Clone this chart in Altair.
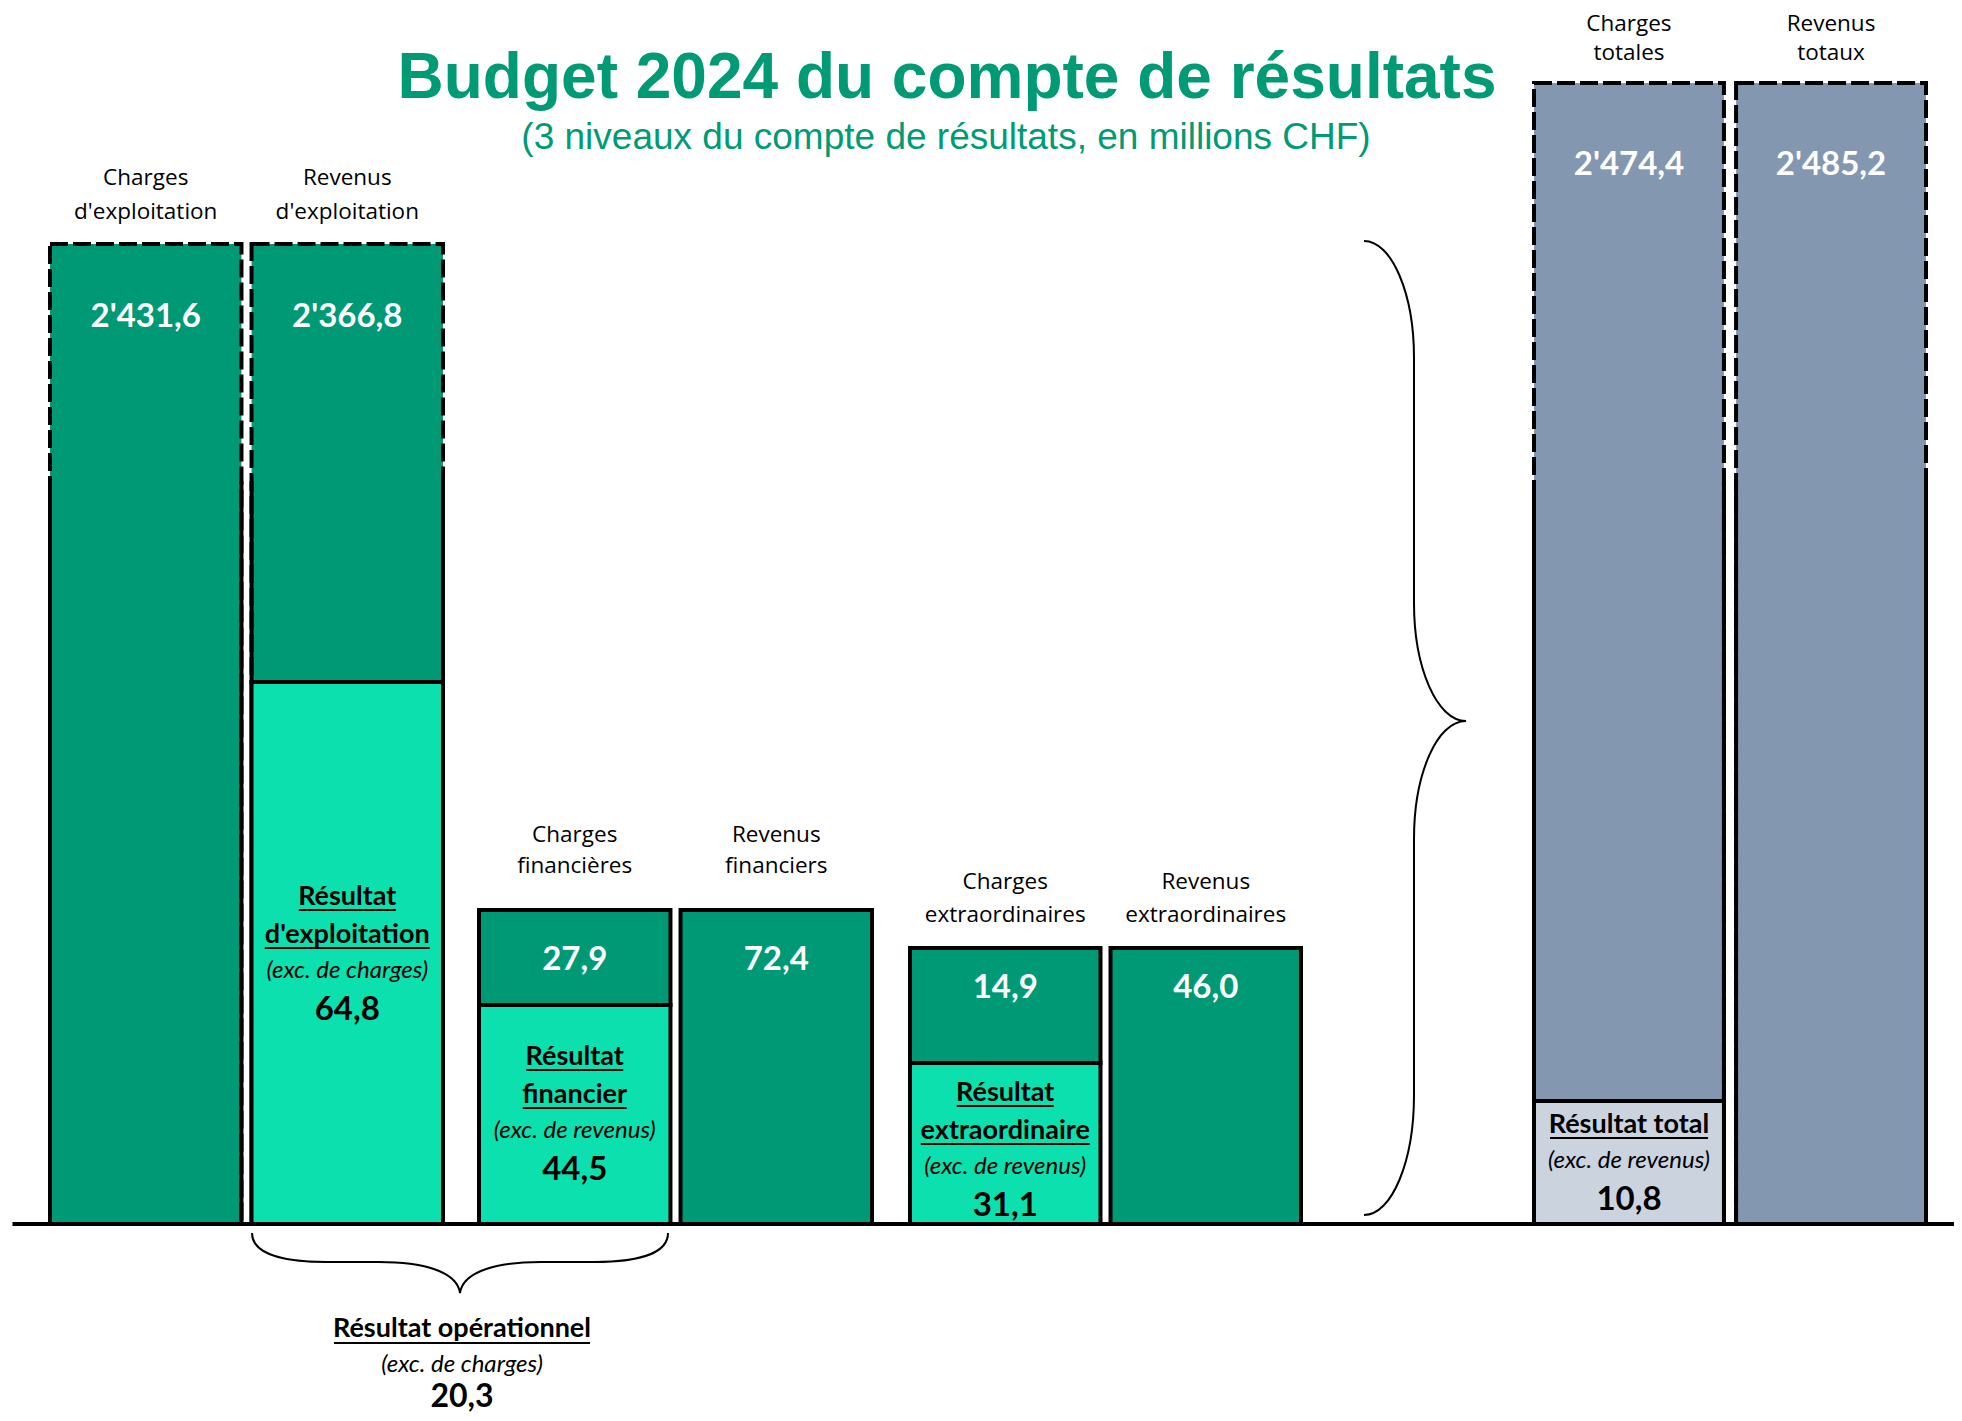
import altair as alt
import pandas as pd

# ---------------- data ----------------
niveaux = ["exploitation", "financier", "extraordinaire", "total"]
entetes_charges = ["Charges\nd'exploitation", "Charges\nfinancières", "Charges\nextraordinaires", "Charges\ntotales"]
entetes_revenus = ["Revenus\nd'exploitation", "Revenus\nfinanciers", "Revenus\nextraordinaires", "Revenus\ntotaux"]
charges = [2431.6, 27.9, 14.9, 2474.4]
revenus = [2366.8, 72.4, 46.0, 2485.2]
resultats = [64.8, 44.5, 31.1, 10.8]
resultat_titres = ["Résultat\nd'exploitation", "Résultat\nfinancier", "Résultat\nextraordinaire", "Résultat total"]
resultat_excedents = ["(exc. de charges)", "(exc. de revenus)", "(exc. de revenus)", "(exc. de revenus)"]
resultat_barres = ["Revenus", "Charges", "Charges", "Charges"]
operationnel_titre = "Résultat opérationnel"
operationnel_excedent = "(exc. de charges)"
operationnel_valeur = 20.3
titre = "Budget 2024 du compte de résultats"
sous_titre = "(3 niveaux du compte de résultats, en millions CHF)"

# ---------------- style / layout ----------------
W, H = 1946, 1405
BASE = 1216
DASH_END = 473
GREEN_TITLE = "#009A74"
DARK = "#009975"
LIGHT = "#0CE0AF"
SLATE = "#8497B0"
LIGHT_SLATE = "#CBD3DF"
HEAD_SIZE = 22.5
BOLD_SIZE = 27
ITAL_SIZE = 24
NUM_SIZE = 33

LAYOUT = [
    dict(x0=42, x1=435, pad=0.05, split=674, top=236, head=(-66, -32), val=73, res=215,
         dashed=True, fill=DARK, light=LIGHT),
    dict(x0=471, x1=864, pad=0.05, split=997, top=902, head=(-75, -44), val=50, res=52,
         dashed=False, fill=DARK, light=LIGHT),
    dict(x0=902, x1=1293, pad=0.05, split=1055, top=940, head=(-66, -33), val=40, res=30,
         dashed=False, fill=DARK, light=LIGHT),
    dict(x0=1526, x1=1918, pad=0.06, split=1093, top=75, head=(-59, -30), val=82, res=24,
         dashed=True, fill=SLATE, light=LIGHT_SLATE),
]
ULW = {"Résultat": 97, "d'exploitation": 165, "financier": 104, "extraordinaire": 169,
       "Résultat total": 158}

BRACE_V = ("M -50 -487 C -22 -487 0 -434 0 -370 L 0 -125 C 0 -60 23 -7 52 -7 "
           "C 23 -7 0 46 0 111 L 0 367 C 0 433 -22 487 -50 487")
BRACE_H = ("M -208 -30 C -208 -12 -185 -1 -134 -1 L -81 -1 C -38 -1 -3 8 0 30 "
           "C 3 8 38 -1 81 -1 L 134 -1 C 185 -1 208 -12 208 -30")


def fmt(v):
    return f"{v:,.1f}".replace(",", "'").replace(".", ",")


def groupe(i):
    L = LAYOUT[i]
    res = resultats[i]
    rb = resultat_barres[i]
    rows = []
    for bar, val, head in (("Charges", charges[i], entetes_charges[i]),
                           ("Revenus", revenus[i], entetes_revenus[i])):
        lo = res if bar == rb else 0.0
        h1, h2 = head.split("\n")
        rows.append({"bar": bar, "lo": lo, "hi": round(lo + val, 1), "label": fmt(val),
                     "h1": h1, "h2": h2})
    main = pd.DataFrame(rows)
    total = float(main["hi"].max())
    resdf = pd.DataFrame([{"bar": rb, "lo": 0.0, "hi": res, "exc": resultat_excedents[i],
                           "val": fmt(res)}])

    xs = alt.Scale(type="band", domain=["Charges", "Revenus"], range=[L["x0"], L["x1"]],
                   paddingInner=L["pad"], paddingOuter=0)
    ys = alt.Scale(type="linear", domain=[0, res, total], range=[BASE, L["split"], L["top"]],
                   nice=False, zero=False)
    X = alt.X("bar:N", scale=xs, axis=None)
    Y = alt.Y("hi:Q", scale=ys, axis=None)

    layers = []
    bar_kw = dict(fill=L["fill"], stroke="black", strokeWidth=4)
    if L["dashed"]:
        bar_kw["strokeDash"] = [18, 5]
    layers.append(alt.Chart(main).mark_bar(**bar_kw).encode(x=X, y=Y, y2="lo:Q"))
    if L["dashed"]:
        for bp in (0, 1):
            layers.append(alt.Chart(main).mark_rule(stroke="black", strokeWidth=4).encode(
                x=alt.X("bar:N", scale=xs, axis=None, bandPosition=bp),
                y=alt.value(DASH_END), y2=alt.value(BASE)))
    layers.append(alt.Chart(resdf).mark_bar(fill=L["light"], stroke="black", strokeWidth=4)
                  .encode(x=X, y=Y, y2="lo:Q"))

    # headers
    for col, dy in (("h1", L["head"][0]), ("h2", L["head"][1])):
        layers.append(alt.Chart(main).mark_text(font="Open Sans", fontSize=HEAD_SIZE,
                                                color="black", baseline="middle", dy=dy)
                      .encode(x=X, y=Y, text=f"{col}:N"))
    # values
    layers.append(alt.Chart(main).mark_text(font="Lato", fontWeight="bold", fontSize=NUM_SIZE,
                                            color="white", baseline="middle", dy=L["val"])
                  .encode(x=X, y=Y, text="label:N"))
    # result block
    dy = L["res"]
    for k, t in enumerate(resultat_titres[i].split("\n")):
        if k > 0:
            dy += 38
        d = resdf.assign(t=t)
        layers.append(alt.Chart(d).mark_text(font="Lato", fontWeight="bold", fontSize=BOLD_SIZE,
                                             color="black", baseline="middle", dy=dy)
                      .encode(x=X, y=Y, text="t:N"))
        layers.append(alt.Chart(d).mark_tick(orient="horizontal", size=ULW[t], thickness=2,
                                             color="black", opacity=1, yOffset=dy + 13)
                      .encode(x=X, y=Y))
    dy += 36
    layers.append(alt.Chart(resdf).mark_text(font="Lato", fontStyle="italic", fontSize=ITAL_SIZE,
                                             color="black", baseline="middle", dy=dy)
                  .encode(x=X, y=Y, text="exc:N"))
    dy += 39
    layers.append(alt.Chart(resdf).mark_text(font="Lato", fontWeight="bold", fontSize=NUM_SIZE,
                                             color="black", baseline="middle", dy=dy)
                  .encode(x=X, y=Y, text="val:N"))
    return alt.layer(*layers)


one = pd.DataFrame({"t": [titre], "s": [sous_titre], "op": [operationnel_titre],
                    "opx": [operationnel_excedent], "opv": [fmt(operationnel_valeur)]})

annot = [
    alt.Chart(one).mark_text(font="Liberation Sans", fontWeight="bold", fontSize=64,
                             color=GREEN_TITLE, baseline="alphabetic", align="center")
    .encode(x=alt.value(939), y=alt.value(90), text="t:N"),
    alt.Chart(one).mark_text(font="Liberation Sans", fontSize=37, color=GREEN_TITLE,
                             baseline="alphabetic", align="center")
    .encode(x=alt.value(938), y=alt.value(141), text="s:N"),
    alt.Chart(one).mark_point(shape=BRACE_V, size=4, filled=False, stroke="black",
                              strokeWidth=2, opacity=1)
    .encode(x=alt.value(1406), y=alt.value(720)),
    alt.Chart(one).mark_point(shape=BRACE_H, size=4, filled=False, stroke="black",
                              strokeWidth=2, opacity=1)
    .encode(x=alt.value(452), y=alt.value(1255)),
    alt.Chart(one).mark_text(font="Lato", fontWeight="bold", fontSize=BOLD_SIZE, color="black",
                             baseline="middle", align="center")
    .encode(x=alt.value(454), y=alt.value(1321), text="op:N"),
    alt.Chart(one).mark_rule(stroke="black", strokeWidth=2)
    .encode(x=alt.value(326), x2=alt.value(582), y=alt.value(1335)),
    alt.Chart(one).mark_text(font="Lato", fontStyle="italic", fontSize=ITAL_SIZE, color="black",
                             baseline="middle", align="center")
    .encode(x=alt.value(454), y=alt.value(1357), text="opx:N"),
    alt.Chart(one).mark_text(font="Lato", fontWeight="bold", fontSize=NUM_SIZE - 1, color="black",
                             baseline="middle", align="center")
    .encode(x=alt.value(454), y=alt.value(1389), text="opv:N"),
    alt.Chart(one).mark_rule(stroke="black", strokeWidth=4)
    .encode(x=alt.value(4.5), x2=alt.value(W), y=alt.value(BASE)),
]

chart = (
    alt.layer(*[groupe(i) for i in range(len(niveaux))], *annot)
    .resolve_scale(x="independent", y="independent")
    .properties(width=W, height=H, padding=0, autosize=alt.AutoSizeParams(type="none"))
    .configure_view(stroke=None)
)

chart.save("out.html", embed_options={"renderer": "svg", "actions": False})
